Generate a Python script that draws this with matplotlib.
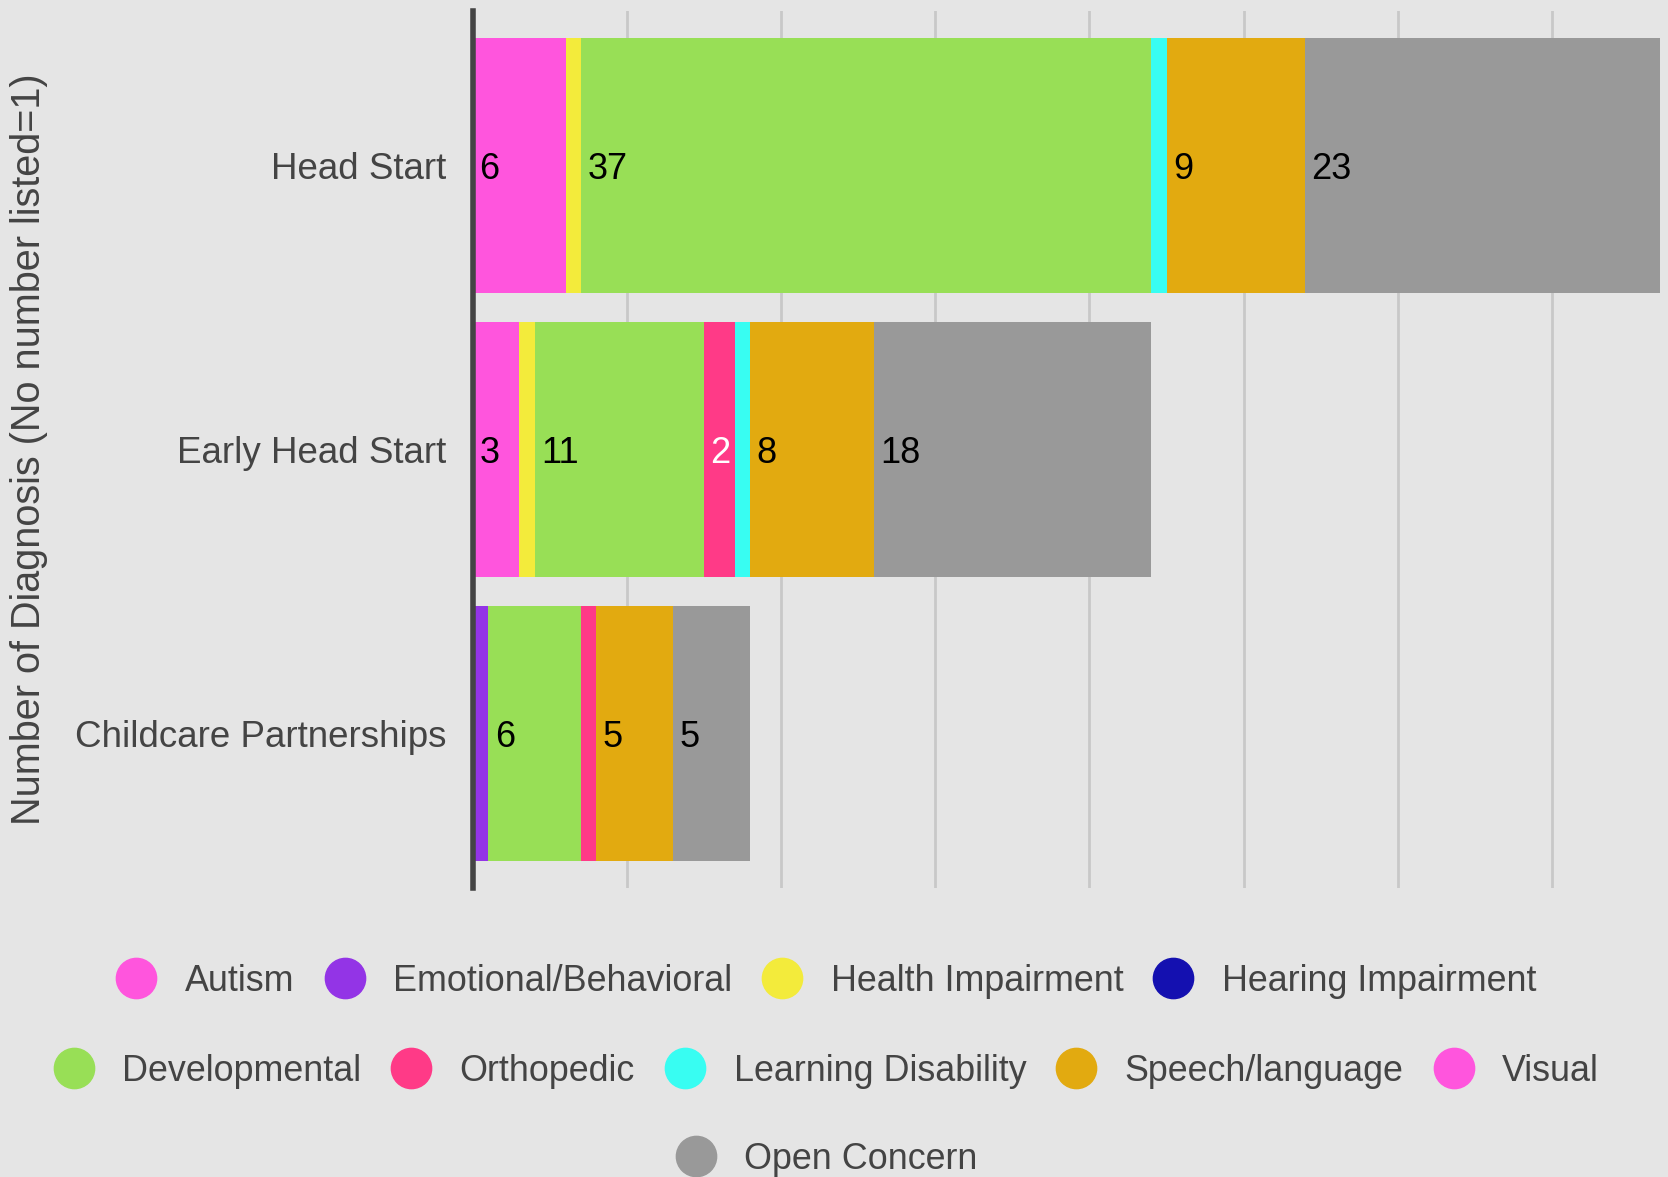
import matplotlib.pyplot as plt
from matplotlib.lines import Line2D
import numpy as np

plt.rcParams['font.family'] = ['Liberation Sans', 'DejaVu Sans']

# Daten
programme = ['Head Start', 'Early Head Start', 'Childcare Partnerships']
kategorien = ['Autism', 'Emotional/Behavioral', 'Health Impairment', 'Hearing Impairment',
              'Developmental', 'Orthopedic', 'Learning Disability', 'Speech/language',
              'Visual', 'Open Concern']
farben = ['#FF55DD', '#9334E6', '#F3EB3B', '#1410B0', '#98DF56',
          '#FF3A87', '#38FDF2', '#E2AA10', '#FF55DD', '#999999']

autism = [6, 3, 0]
emotional = [0, 0, 1]
health = [1, 1, 0]
hearing = [0, 0, 0]
developmental = [37, 11, 6]
orthopedic = [0, 2, 1]
learning = [1, 1, 0]
speech = [9, 8, 5]
visual = [0, 0, 0]
open_concern = [23, 18, 5]

werte = [autism, emotional, health, hearing, developmental,
         orthopedic, learning, speech, visual, open_concern]

# Legendenzeilen (wie im Original umgebrochen)
legend_zeilen = [[0, 1, 2, 3], [4, 5, 6, 7, 8], [9]]

bg = '#E5E5E5'
textfarbe = '#444444'

fig = plt.figure(figsize=(16.68, 11.77), dpi=100, facecolor=bg)
ax = fig.add_axes([0.2836, 0.2455, 0.995 - 0.2836, 0.991 - 0.2455])
ax.set_facecolor(bg)

y = np.arange(len(programme))
links = np.zeros(len(programme))
for name, vals, farbe in zip(kategorien, werte, farben):
    vals = np.array(vals, dtype=float)
    bars = ax.barh(y, vals, left=links, height=0.9, color=farbe, label=name, zorder=3)
    for bar, v in zip(bars, vals):
        if v > 1:
            tf = 'white' if name == 'Orthopedic' else 'black'
            ax.annotate(str(int(v)), (bar.get_x(), bar.get_y() + bar.get_height() / 2),
                        xytext=(4.5, 0), textcoords='offset points',
                        ha='left', va='center_baseline', fontsize=26, color=tf, zorder=4)
    links += vals

ax.set_xlim(0, 77)
ax.set_ylim(2.545, -0.545)
ax.set_xticks(range(0, 80, 10))
ax.set_xticklabels([])
ax.set_yticks(y)
ax.set_yticklabels(programme, fontsize=26.5, color=textfarbe)
ax.tick_params(axis='both', length=0)
ax.tick_params(axis='y', pad=19)
ax.grid(axis='x', color='#C8C8C8', linewidth=2, zorder=0)
ax.set_axisbelow(True)
for s in ['top', 'right', 'bottom']:
    ax.spines[s].set_visible(False)
ax.spines['left'].set_color('#444444')
ax.spines['left'].set_linewidth(4)
ax.spines['left'].set_zorder(5)

fig.text(0.0175, 0.5 * (0.2455 + 0.991), 'Number of Diagnosis (No number listed=1)',
         rotation=90, ha='center', va='center', fontsize=28.5, color=textfarbe)

# Legende in drei zentrierten Zeilen
zeilen_y = [0.1665, 0.0898, 0.0152]
for zeile, yy in zip(legend_zeilen, zeilen_y):
    handles = [Line2D([], [], marker='o', ls='', ms=29, color=farben[i]) for i in zeile]
    labels = [kategorien[i] for i in zeile]
    leg = fig.legend(handles, labels, loc='center', bbox_to_anchor=(0.495, yy),
                     ncol=len(zeile), frameon=False, fontsize=25.8,
                     handlelength=1.2, handletextpad=0.75, columnspacing=0.8,
                     borderpad=0, borderaxespad=0, labelcolor=textfarbe)

fig.savefig('out.png', dpi=100, facecolor=bg)
